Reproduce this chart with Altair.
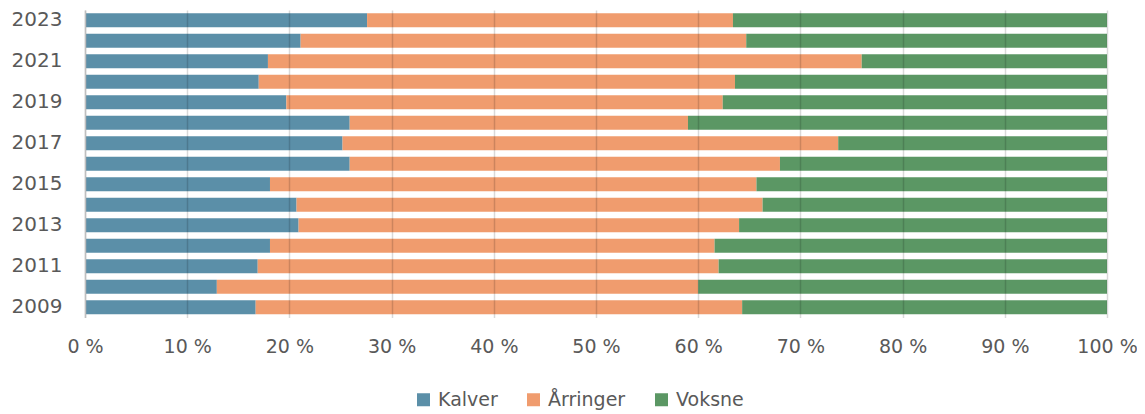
import altair as alt
import pandas as pd

years = [str(y) for y in range(2009, 2024)]
kalver = [16.7, 12.9, 16.9, 18.1, 20.9, 20.7, 18.1, 25.9, 25.2, 25.9, 19.7, 17.0, 17.9, 21.1, 27.6]
arringer = [47.6, 47.1, 45.1, 43.5, 43.1, 45.6, 47.6, 42.1, 48.5, 33.1, 42.7, 46.6, 58.1, 43.6, 35.8]
voksne = [35.7, 40.0, 38.0, 38.4, 36.0, 33.7, 34.3, 32.0, 26.3, 41.0, 37.6, 36.4, 24.0, 35.3, 36.6]
groups = ["Kalver", "Årringer", "Voksne"]
colors = ["#5b8fa8", "#f09c6e", "#5b9764"]

rows = []
for i, y in enumerate(years):
    for j, (g, vals) in enumerate(zip(groups, [kalver, arringer, voksne])):
        rows.append({"year": y, "group": g, "value": vals[i], "ord": j})
df = pd.DataFrame(rows)

FONT = "DejaVu Sans"
TXT = "#595959"

chart = alt.Chart(df).mark_bar().encode(
    x=alt.X("value:Q", stack="normalize",
            scale=alt.Scale(domain=[0, 1], nice=False),
            axis=alt.Axis(title=None, values=[i / 10 for i in range(11)],
                          labelExpr="round(datum.value*100) + ' %'",
                          grid=True, gridColor="#000000", gridOpacity=0.15, gridWidth=1.5,
                          domain=False, ticks=False, labelPadding=20, zindex=1,
                          labelFlush=False, labelOverlap=False, labelBound=False,
                          labelFont=FONT, labelFontSize=19, labelColor=TXT)),
    y=alt.Y("year:N", sort="descending",
            scale=alt.Scale(paddingInner=0.32, paddingOuter=0.16),
            axis=alt.Axis(title=None, ticks=False, domain=True, domainColor="#bfbfbf",
                          domainWidth=1.5,
                          labelExpr="toNumber(datum.value) % 2 == 1 ? datum.value : ''",
                          labelPadding=23, labelFont=FONT, labelFontSize=20,
                          labelColor=TXT, zindex=1)),
    color=alt.Color("group:N", sort=groups,
                    scale=alt.Scale(domain=groups, range=colors),
                    legend=alt.Legend(title=None, orient="none", direction="horizontal",
                                      legendX=329, legendY=380,
                                      symbolType="square", symbolSize=169,
                                      symbolStrokeWidth=0, symbolOpacity=1,
                                      labelFont=FONT, labelFontSize=19, labelColor=TXT,
                                      labelOffset=5, columnPadding=26)),
    order=alt.Order("ord:Q"),
).properties(
    width=1022, height=307.5,
    autosize=alt.AutoSizeParams(type="none"),
    padding={"left": 77, "top": 2, "right": 30, "bottom": 110},
).configure_view(stroke=None).configure_bar(opacity=1)

chart.save("out.html", embed_options={"renderer": "svg", "actions": False})
